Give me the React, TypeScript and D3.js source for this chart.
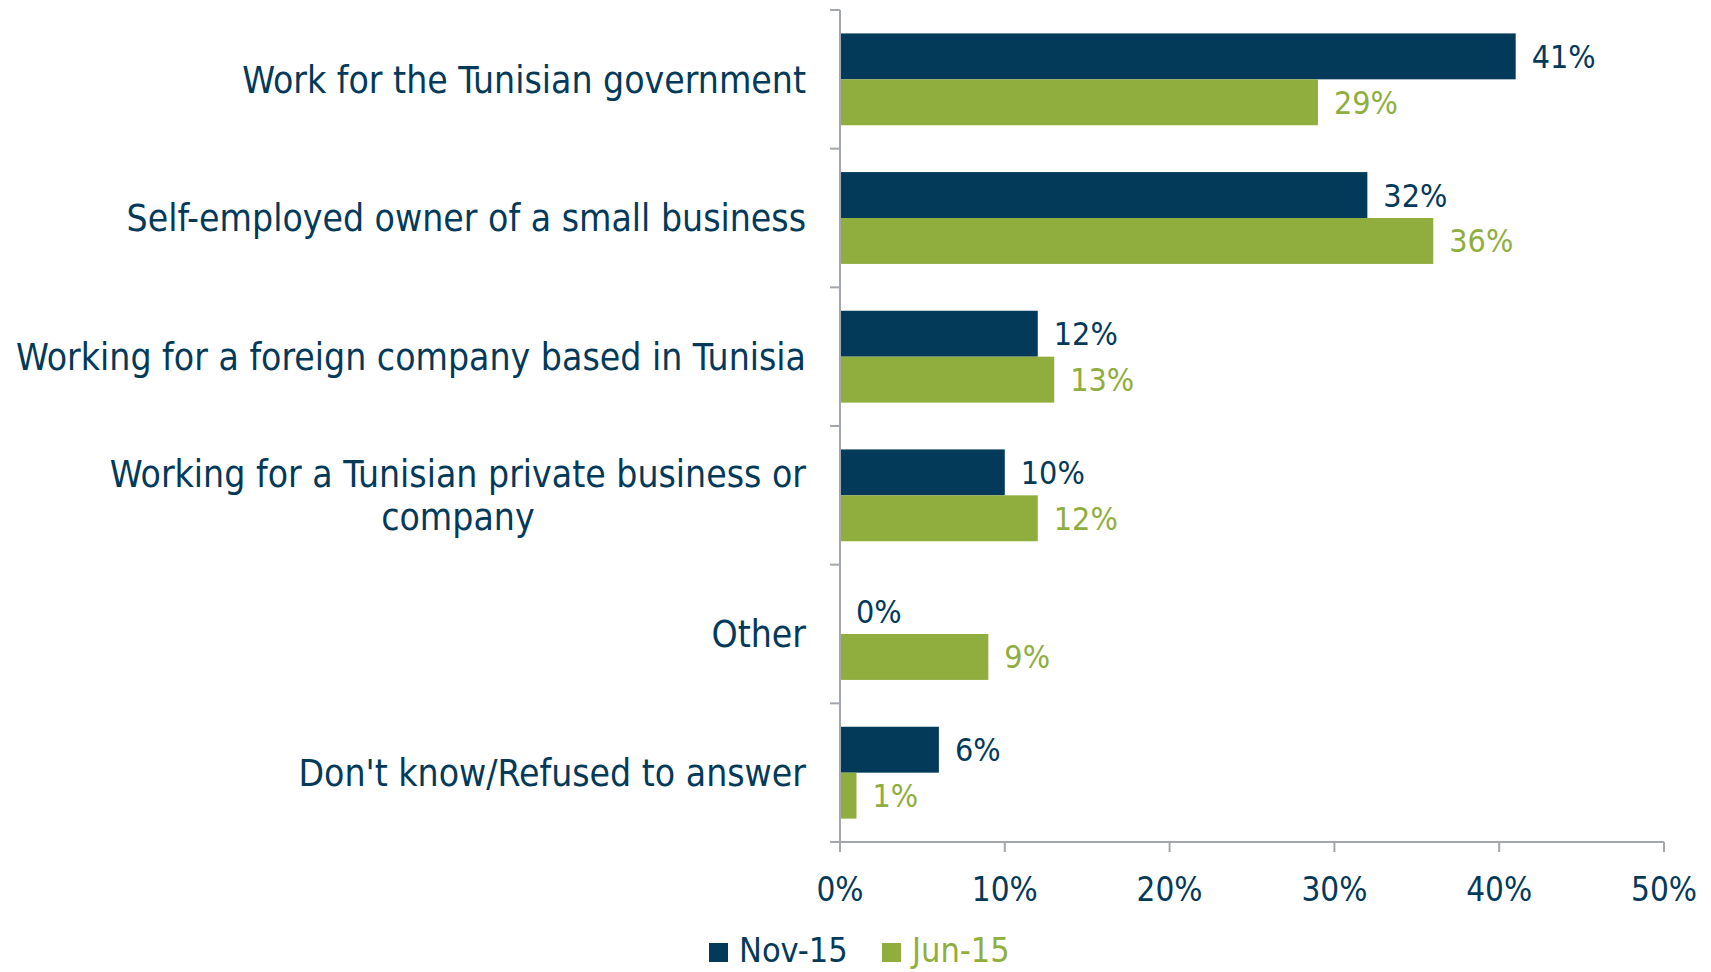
import React, { useEffect, useRef } from 'react';
import * as d3 from 'd3';

const categories = [
  'Work for the Tunisian government',
  'Self-employed owner of a small business',
  'Working for a foreign company based in Tunisia',
  'Working for a Tunisian private business or|company',
  'Other',
  "Don't know/Refused to answer",
];
const seriesNames = ['Nov-15', 'Jun-15'];
const nov15 = [0.41, 0.32, 0.12, 0.1, 0.0, 0.06];
const jun15 = [0.29, 0.36, 0.13, 0.12, 0.09, 0.01];
const xTicks = [0, 0.1, 0.2, 0.3, 0.4, 0.5];

const NAVY = '#033a5a';
const GREEN = '#8fae3e';
const GRID = '#a3a7ad';
const FONT = '"DejaVu Sans Condensed", "DejaVu Sans", sans-serif';

const App: React.FC = () => {
  const svgRef = useRef<SVGSVGElement>(null);

  useEffect(() => {
    const svg = d3.select(svgRef.current);
    svg.selectAll('*').remove();

    const x = d3.scaleLinear().domain([0, 0.5]).range([840, 1664]);
    const y = d3.scaleBand().domain(categories).range([10, 842]);
    const inner = d3.scaleBand().domain(seriesNames).range([0, y.bandwidth()]).paddingOuter(0.51);
    const color = d3.scaleOrdinal<string>().domain(seriesNames).range([NAVY, GREEN]);

    const rows = categories.map((c, i) => ({ c, vals: [nov15[i], jun15[i]] }));

    // bars + value labels
    const g = svg.append('g');
    rows.forEach(r => {
      r.vals.forEach((v, j) => {
        const s = seriesNames[j];
        const y0 = y(r.c)! + inner(s)!;
        if (v > 0) {
          g.append('rect')
            .attr('x', x(0))
            .attr('y', y0)
            .attr('width', x(v) - x(0))
            .attr('height', inner.bandwidth())
            .attr('fill', color(s));
        }
        g.append('text')
          .attr('x', x(v) + 16)
          .attr('y', y0 + inner.bandwidth() / 2)
          .attr('dy', '0.36em')
          .attr('font-family', FONT)
          .attr('font-size', 32)
          .attr('fill', color(s))
          .text(`${Math.round(v * 100)}%`);
      });
    });

    // y axis
    svg.append('line')
      .attr('x1', x(0)).attr('x2', x(0))
      .attr('y1', y.range()[0]).attr('y2', y.range()[1])
      .attr('stroke', GRID).attr('stroke-width', 2);
    const bounds = categories.map(c => y(c)!).concat([y.range()[1]]);
    svg.selectAll('.ytick').data(bounds).enter().append('line')
      .attr('x1', x(0) - 10).attr('x2', x(0))
      .attr('y1', d => d).attr('y2', d => d)
      .attr('stroke', GRID).attr('stroke-width', 2);

    // x axis
    const xAxisY = y.range()[1];
    svg.append('line')
      .attr('x1', x(0) - 10).attr('x2', x(0.5))
      .attr('y1', xAxisY).attr('y2', xAxisY)
      .attr('stroke', GRID).attr('stroke-width', 2);
    svg.selectAll('.xtick').data(xTicks).enter().append('line')
      .attr('x1', d => x(d)).attr('x2', d => x(d))
      .attr('y1', xAxisY).attr('y2', xAxisY + 10)
      .attr('stroke', GRID).attr('stroke-width', 2);
    svg.selectAll('.xlab').data(xTicks).enter().append('text')
      .attr('x', d => x(d))
      .attr('y', 889)
      .attr('dy', '0.36em')
      .attr('text-anchor', 'middle')
      .attr('font-family', FONT)
      .attr('font-size', 33)
      .attr('fill', NAVY)
      .text(d => `${Math.round(d * 100)}%`);

    // category labels
    const labelRight = 806;
    const catSize = 37;
    categories.forEach(c => {
      const lines = c.split('|');
      const cy = y(c)! + y.bandwidth() / 2;
      const lh = 43;
      const t = svg.append('text')
        .attr('font-family', FONT)
        .attr('font-size', catSize)
        .attr('fill', NAVY);
      if (lines.length === 1) {
        t.attr('x', labelRight).attr('y', cy).attr('dy', '0.36em')
          .attr('text-anchor', 'end').text(lines[0]);
      } else {
        const first = t.attr('x', labelRight).attr('y', cy - lh / 2).attr('dy', '0.36em')
          .attr('text-anchor', 'end').text(lines[0]);
        const w = (first.node() as SVGTextElement).getComputedTextLength();
        svg.append('text')
          .attr('font-family', FONT)
          .attr('font-size', catSize)
          .attr('fill', NAVY)
          .attr('x', labelRight - w / 2)
          .attr('y', cy + lh / 2)
          .attr('dy', '0.36em')
          .attr('text-anchor', 'middle')
          .text(lines[1]);
      }
    });

    // legend
    const leg = svg.append('g');
    const legItems = [
      { name: seriesNames[0], x: 709 },
      { name: seriesNames[1], x: 882 },
    ];
    legItems.forEach(it => {
      leg.append('rect')
        .attr('x', it.x).attr('y', 943)
        .attr('width', 19).attr('height', 19)
        .attr('fill', color(it.name));
      leg.append('text')
        .attr('x', it.x + 30).attr('y', 950)
        .attr('dy', '0.36em')
        .attr('font-family', FONT)
        .attr('font-size', 34)
        .attr('fill', color(it.name))
        .text(it.name);
    });
  }, []);

  return (
    <svg
      ref={svgRef}
      width={1711}
      height={972}
      style={{ position: 'absolute', left: 0, top: 0, background: '#fff' }}
    />
  );
};

export default App;
